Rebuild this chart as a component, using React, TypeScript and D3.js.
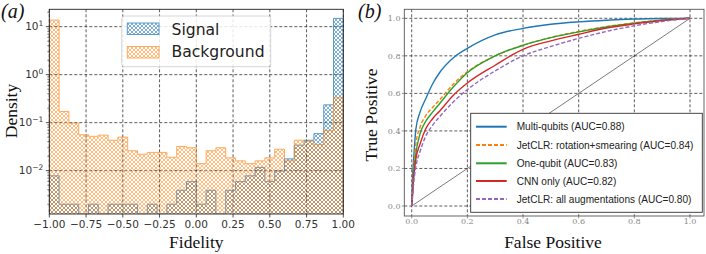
import React from 'react';
import * as d3 from 'd3';

// ---- panel (a): fidelity histogram, 30 bins on [-1, 1], density ----
const BIN_COUNT = 30;
const signalDensity = [
  0.0078, 0.002, 0.002, 0, 0.002, 0, 0.002, 0.002, 0.002, 0,
  0.002, 0, 0.002, 0.0039, 0.0059, 0.002, 0.0039, 0, 0.0039, 0.0059,
  0.0078, 0.0117, 0.0059, 0.0098, 0.0176, 0.034, 0.043, 0.059, 0.235, 14.9,
];
const backgroundDensity = [
  13.7, 0.171, 0.098, 0.056, 0.052, 0.055, 0.043, 0.05, 0.026, 0.022,
  0.024, 0.024, 0.019, 0.032, 0.03, 0.014, 0.026, 0.03, 0.0185, 0.016,
  0.014, 0.016, 0.0185, 0.028, 0.016, 0.043, 0.041, 0.035, 0.069, 0.33,
];
const fidelityTicks = [-1, -0.75, -0.5, -0.25, 0, 0.25, 0.5, 0.75, 1];
const densityExponents = [-2, -1, 0, 1];

// ---- panel (b): ROC curves ----
const fprGrid = [0, 0.003, 0.007, 0.015, 0.03, 0.05, 0.075, 0.1, 0.15, 0.2, 0.3, 0.4, 0.5, 0.6, 0.7, 0.8, 0.9, 1.0];
const tprMulti = [0, 0.15, 0.25, 0.41, 0.5, 0.57, 0.65, 0.71, 0.79, 0.84, 0.912, 0.946, 0.968, 0.981, 0.99, 0.996, 0.999, 1];
const tprJetRot = [0, 0.08, 0.19, 0.33, 0.42, 0.48, 0.525, 0.565, 0.65, 0.715, 0.8, 0.857, 0.898, 0.93, 0.956, 0.976, 0.991, 1];
const tprOneQubit = [0, 0.07, 0.17, 0.28, 0.385, 0.45, 0.5, 0.545, 0.635, 0.71, 0.8, 0.856, 0.897, 0.928, 0.954, 0.974, 0.99, 1];
const tprCnn = [0, 0.06, 0.15, 0.25, 0.33, 0.41, 0.465, 0.505, 0.59, 0.655, 0.75, 0.835, 0.88, 0.915, 0.948, 0.97, 0.988, 1];
const tprJetAll = [0, 0.05, 0.12, 0.21, 0.29, 0.37, 0.43, 0.475, 0.555, 0.62, 0.72, 0.8, 0.85, 0.893, 0.93, 0.96, 0.983, 1];
const rocLabels = [
  'Multi-qubits (AUC=0.88)',
  'JetCLR: rotation+smearing (AUC=0.84)',
  'One-qubit (AUC=0.83)',
  'CNN only (AUC=0.82)',
  'JetCLR: all augmentations (AUC=0.80)',
];
const rocTicks = [0, 0.2, 0.4, 0.6, 0.8, 1.0];

const SERIF = '"Liberation Serif", "Times New Roman", serif';
const DSERIF = '"DejaVu Serif", serif';
const SANS = '"DejaVu Sans", sans-serif';
const ARIAL = '"Liberation Sans", Arial, sans-serif';
const GRID = { stroke: '#333', strokeWidth: 0.8, strokeDasharray: '3,2' };

function Hatch({ id, color }) {
  return (
    <pattern id={id} patternUnits="userSpaceOnUse" width={4} height={4}>
      <path
        d="M-1,1 l2,-2 M0,4 l4,-4 M3,5 l2,-2 M-1,3 l2,2 M0,0 l4,4 M3,-1 l2,2"
        stroke={color}
        strokeWidth={0.8}
        fill="none"
      />
    </pattern>
  );
}

function Histogram() {
  const left = 49.3, right = 343.3, top = 9.3, bottom = 214;
  const x = d3.scaleLinear().domain([-1, 1]).range([left, right]);
  const y = d3.scaleLog().domain([0.00125, 23]).range([bottom, top]).clamp(true);
  const edges = d3.range(BIN_COUNT + 1).map(i => -1 + (2 * i) / BIN_COUNT);

  const minor = [];
  densityExponents.concat([-3]).forEach(e => {
    for (let m = 2; m <= 9; m++) {
      const v = m * Math.pow(10, e);
      if (v > y.domain()[0] && v < y.domain()[1]) minor.push(v);
    }
  });

  const outline = (vals) => {
    const pts = [[edges[0], 1e-6]];
    vals.forEach((v, i) => pts.push([edges[i], Math.max(v, 1e-6)]));
    pts.push([edges[BIN_COUNT], Math.max(vals[BIN_COUNT - 1], 1e-6)]);
    pts.push([edges[BIN_COUNT], 1e-6]);
    return d3.line().x(d => x(d[0])).y(d => y(d[1])).curve(d3.curveStepAfter)(pts);
  };

  const bars = (vals, fill, stroke, opacity) => (
    <g opacity={opacity} clipPath="url(#clipA)">
      {vals.map((v, i) =>
        v > 0 ? (
          <rect
            key={i}
            x={x(edges[i])}
            y={y(v)}
            width={x(edges[i + 1]) - x(edges[i])}
            height={bottom - y(v)}
            fill={fill}
          />
        ) : null
      )}
      <path d={outline(vals) || ''} fill="none" stroke={stroke} strokeWidth={1} />
    </g>
  );

  return (
    <g>
      <clipPath id="clipA">
        <rect x={left} y={top} width={right - left} height={bottom - top} />
      </clipPath>
      {fidelityTicks.map(t => (
        <line key={'gx' + t} x1={x(t)} x2={x(t)} y1={top} y2={bottom} {...GRID} />
      ))}
      {densityExponents.map(e => (
        <line key={'gy' + e} x1={left} x2={right} y1={y(Math.pow(10, e))} y2={y(Math.pow(10, e))} {...GRID} />
      ))}
      {bars(signalDensity, 'url(#hatchSig)', '#1f77b4', 0.72)}
      {bars(backgroundDensity, 'url(#hatchBkg)', '#ff7f0e', 0.66)}
      <rect x={left} y={top} width={right - left} height={bottom - top} fill="none" stroke="#222" strokeWidth={0.9} />

      {fidelityTicks.map(t => (
        <g key={'tx' + t}>
          <line x1={x(t)} x2={x(t)} y1={bottom} y2={bottom + 3.5} stroke="#222" strokeWidth={0.8} />
          <text x={x(t)} y={228} textAnchor="middle" fontFamily={SANS} fontSize={10.5} fill="#333">
            {t < 0 ? '\u2212' + Math.abs(t).toFixed(2) : t.toFixed(2)}
          </text>
        </g>
      ))}
      {minor.map(v => (
        <line key={'mn' + v} x1={left - 2} x2={left} y1={y(v)} y2={y(v)} stroke="#222" strokeWidth={0.6} />
      ))}
      {densityExponents.map(e => (
        <g key={'ty' + e}>
          <line x1={left - 3.5} x2={left} y1={y(Math.pow(10, e))} y2={y(Math.pow(10, e))} stroke="#222" strokeWidth={0.8} />
          <text x={left - 6} y={y(Math.pow(10, e)) + 3.5} textAnchor="end" fontFamily={SANS} fontSize={10.5} fill="#333">
            10<tspan dy={-4.5} fontSize={7.5}>{e < 0 ? '\u2212' + Math.abs(e) : e}</tspan>
          </text>
        </g>
      ))}

      <text x={(left + right) / 2} y={248} textAnchor="middle" fontFamily={SERIF} fontSize={17.5} fill="#111">Fidelity</text>
      <text transform="translate(16.5,111) rotate(-90)" textAnchor="middle" fontFamily={SERIF} fontSize={17.5} fill="#111">Density</text>
      <text x={1} y={18} fontFamily={SERIF} fontStyle="italic" fontSize={20} fill="#111">(a)</text>

      {/* legend */}
      <rect x={121.7} y={16} width={149} height={50.7} rx={3} fill="#fff" fillOpacity={0.85} stroke="#ccc" strokeWidth={0.8} />
      <g opacity={0.72}>
        <rect x={127.3} y={23} width={31.7} height={11.5} fill="url(#hatchSig)" stroke="#1f77b4" />
      </g>
      <g opacity={0.66}>
        <rect x={127.3} y={46.5} width={31.7} height={11.5} fill="url(#hatchBkg)" stroke="#ff7f0e" />
      </g>
      <text x={171.5} y={35} fontFamily={SANS} fontSize={15.6} fill="#222">Signal</text>
      <text x={171.5} y={57} fontFamily={SANS} fontSize={15.6} fill="#222">Background</text>
    </g>
  );
}

function Roc() {
  const left = 404.3, right = 704, top = 9.3, bottom = 216;
  const x = d3.scaleLinear().domain([0, 1]).range([411.7, 690]);
  const y = d3.scaleLinear().domain([0, 1]).range([206, 18.3]);
  const series = [
    { tpr: tprMulti, color: '#1f77b4', dash: null },
    { tpr: tprJetRot, color: '#ff7f0e', dash: '4,2' },
    { tpr: tprOneQubit, color: '#2ca02c', dash: null },
    { tpr: tprCnn, color: '#d62728', dash: null },
    { tpr: tprJetAll, color: '#9467bd', dash: '4,2' },
  ];
  const line = d3.line<number>()
    .x((_, i) => x(fprGrid[i]))
    .y(d => y(d))
    .curve(d3.curveMonotoneX);
  const legendRows = [126.7, 145, 163.3, 181, 199];

  return (
    <g>
      {rocTicks.map(t => (
        <g key={'g' + t}>
          <line x1={x(t)} x2={x(t)} y1={top} y2={bottom} {...GRID} />
          <line x1={left} x2={right} y1={y(t)} y2={y(t)} {...GRID} />
        </g>
      ))}
      <line x1={x(0)} y1={y(0)} x2={x(1)} y2={y(1)} stroke="#222" strokeWidth={0.6} />
      {series.map((s, i) => (
        <path key={i} d={line(s.tpr) || ''} fill="none" stroke={s.color} strokeWidth={1.4} strokeDasharray={s.dash || undefined} />
      ))}
      <rect x={left} y={top} width={right - left} height={bottom - top} fill="none" stroke="#555" strokeWidth={0.9} />
      {rocTicks.map(t => (
        <g key={'t' + t}>
          <line x1={x(t)} x2={x(t)} y1={bottom} y2={bottom + 2.5} stroke="#555" strokeWidth={0.6} />
          <text x={x(t)} y={224} textAnchor="middle" fontFamily={DSERIF} fontSize={8} fill="#888">{t.toFixed(1)}</text>
          <line x1={left - 2.5} x2={left} y1={y(t)} y2={y(t)} stroke="#555" strokeWidth={0.6} />
          <text x={400.5} y={y(t) + 2.8} textAnchor="end" fontFamily={DSERIF} fontSize={8} fill="#888">{t.toFixed(1)}</text>
        </g>
      ))}
      <text x={553} y={248} textAnchor="middle" fontFamily={SERIF} fontSize={17.5} fill="#111">False Positive</text>
      <text transform="translate(377,115) rotate(-90)" textAnchor="middle" fontFamily={SERIF} fontSize={17.5} fill="#111">True Positive</text>
      <text x={358} y={18} fontFamily={SERIF} fontStyle="italic" fontSize={20} fill="#111">(b)</text>

      {/* legend */}
      <rect x={470.7} y={113.3} width={231.6} height={99} fill="#fff" stroke="#333" strokeWidth={0.9} />
      {series.map((s, i) => (
        <g key={'l' + i}>
          <line x1={476} x2={506.7} y1={legendRows[i]} y2={legendRows[i]} stroke={s.color} strokeWidth={2} strokeDasharray={s.dash || undefined} />
          <text x={516.7} y={legendRows[i] + 3.6} fontFamily={ARIAL} fontSize={10.1} fill="#222">{rocLabels[i]}</text>
        </g>
      ))}
    </g>
  );
}

export default function App() {
  return (
    <svg width={706} height={254} style={{ position: 'absolute', left: 0, top: 0, background: '#fff' }}>
      <defs>
        <Hatch id="hatchSig" color="#1f77b4" />
        <Hatch id="hatchBkg" color="#ff7f0e" />
      </defs>
      <rect width={706} height={254} fill="#fff" />
      <Histogram />
      <Roc />
    </svg>
  );
}
